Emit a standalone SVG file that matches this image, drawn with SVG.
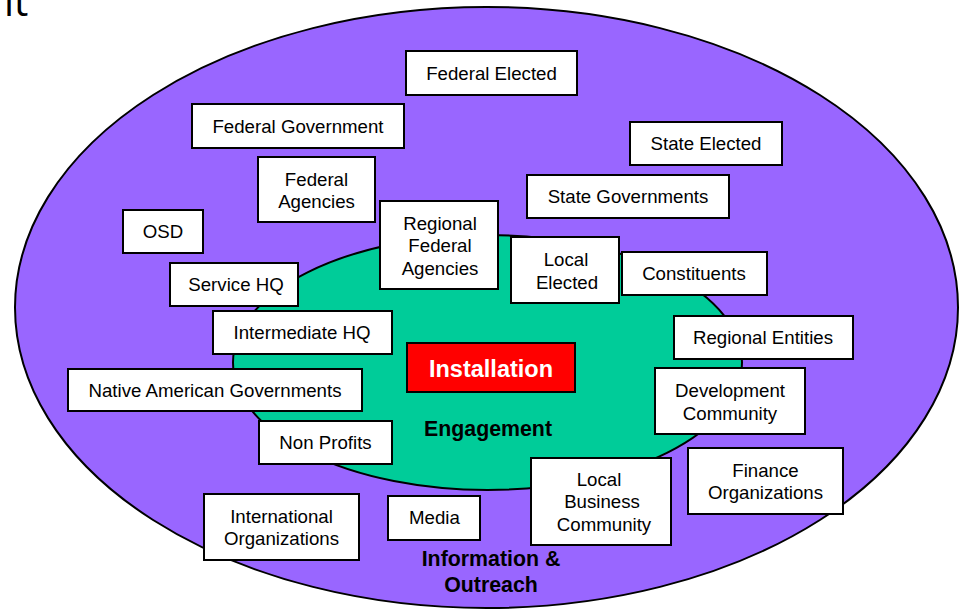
<svg xmlns="http://www.w3.org/2000/svg" width="963" height="613" viewBox="0 0 963 613">
<style>
.box{fill:#fff;stroke:#000;stroke-width:2}
.t{font-family:"Liberation Sans",Arial,sans-serif;font-size:18.67px;fill:#000;text-anchor:middle}
.b{font-family:"Liberation Sans",Arial,sans-serif;font-size:21.33px;font-weight:bold;fill:#000;text-anchor:middle}
</style>
<rect width="963" height="613" fill="#fff"/>
<text x="4" y="16" font-family="'Open Sans','Noto Sans',sans-serif" font-size="40" fill="#000">it</text>
<g id="outer">
<ellipse cx="486.5" cy="307.5" rx="471.5" ry="300.5" fill="#9966FF" stroke="#000" stroke-width="2"/>
</g>
<g id="inner">
<ellipse cx="487.5" cy="362.5" rx="254.5" ry="127.5" fill="#00CC99" stroke="#000" stroke-width="2"/>
</g>
<g id="connectors"></g>
<g id="federal-elected"><rect class="box" x="406" y="51" width="171" height="44"/><text class="t" x="491.5" y="79.5">Federal Elected</text></g>
<g id="federal-government"><rect class="box" x="192" y="104" width="212" height="44"/><text class="t" x="298" y="132.5">Federal Government</text></g>
<g id="federal-agencies"><rect class="box" x="258" y="157" width="117" height="65"/><text class="t" x="316.5" y="185.5">Federal</text><text class="t" x="316.5" y="208">Agencies</text></g>
<g id="state-elected"><rect class="box" x="630" y="122" width="152" height="43"/><text class="t" x="706" y="150">State Elected</text></g>
<g id="state-governments"><rect class="box" x="527" y="175" width="202" height="43"/><text class="t" x="628" y="203">State Governments</text></g>
<g id="osd"><rect class="box" x="123" y="210" width="80" height="43"/><text class="t" x="163" y="238">OSD</text></g>
<g id="regional-federal-agencies"><rect class="box" x="380" y="201" width="118" height="88"/><text class="t" x="440" y="229.5">Regional</text><text class="t" x="440" y="252">Federal</text><text class="t" x="440" y="274.5">Agencies</text></g>
<g id="local-elected"><rect class="box" x="511" y="237" width="108" height="66"/><text class="t" x="566" y="266">Local</text><text class="t" x="567" y="288.5">Elected</text></g>
<g id="constituents"><rect class="box" x="622" y="252" width="145" height="43"/><text class="t" x="694" y="280">Constituents</text></g>
<g id="service-hq"><rect class="box" x="170" y="263" width="128" height="43"/><text class="t" x="236" y="291">Service HQ</text></g>
<g id="intermediate-hq"><rect class="box" x="213" y="311" width="179" height="43"/><text class="t" x="302" y="339">Intermediate HQ</text></g>
<g id="regional-entities"><rect class="box" x="674" y="316" width="179" height="43"/><text class="t" x="763" y="344">Regional Entities</text></g>
<g id="installation"><rect x="407" y="343" width="168" height="49" fill="#FF0000" stroke="#000" stroke-width="2"/><text x="491" y="376.5" font-family="'Liberation Sans',Arial,sans-serif" font-size="23.5" font-weight="bold" fill="#fff" text-anchor="middle">Installation</text></g>
<g id="native-american-governments"><rect class="box" x="68" y="369" width="294" height="42"/><text class="t" x="215" y="397">Native American Governments</text></g>
<g id="development-community"><rect class="box" x="655" y="368" width="150" height="66"/><text class="t" x="730" y="397">Development</text><text class="t" x="730" y="419.5">Community</text></g>
<g id="engagement"><text class="b" x="488" y="436">Engagement</text></g>
<g id="non-profits"><rect class="box" x="259" y="421" width="133" height="43"/><text class="t" x="325.5" y="449">Non Profits</text></g>
<g id="finance-organizations"><rect class="box" x="688" y="448" width="155" height="66"/><text class="t" x="765.5" y="476.5">Finance</text><text class="t" x="765.5" y="499">Organizations</text></g>
<g id="local-business-community"><rect class="box" x="531" y="458" width="140" height="87"/><text class="t" x="599" y="485.5">Local</text><text class="t" x="602" y="508">Business</text><text class="t" x="604" y="530.5">Community</text></g>
<g id="international-organizations"><rect class="box" x="204" y="494" width="155" height="66"/><text class="t" x="281.5" y="522.5">International</text><text class="t" x="281.5" y="545">Organizations</text></g>
<g id="media"><rect class="box" x="388" y="496" width="92" height="44"/><text class="t" x="434.5" y="524">Media</text></g>
<g id="information-outreach"><text class="b" x="491" y="565.5">Information &amp;</text><text class="b" x="491" y="591.5">Outreach</text></g>
</svg>
